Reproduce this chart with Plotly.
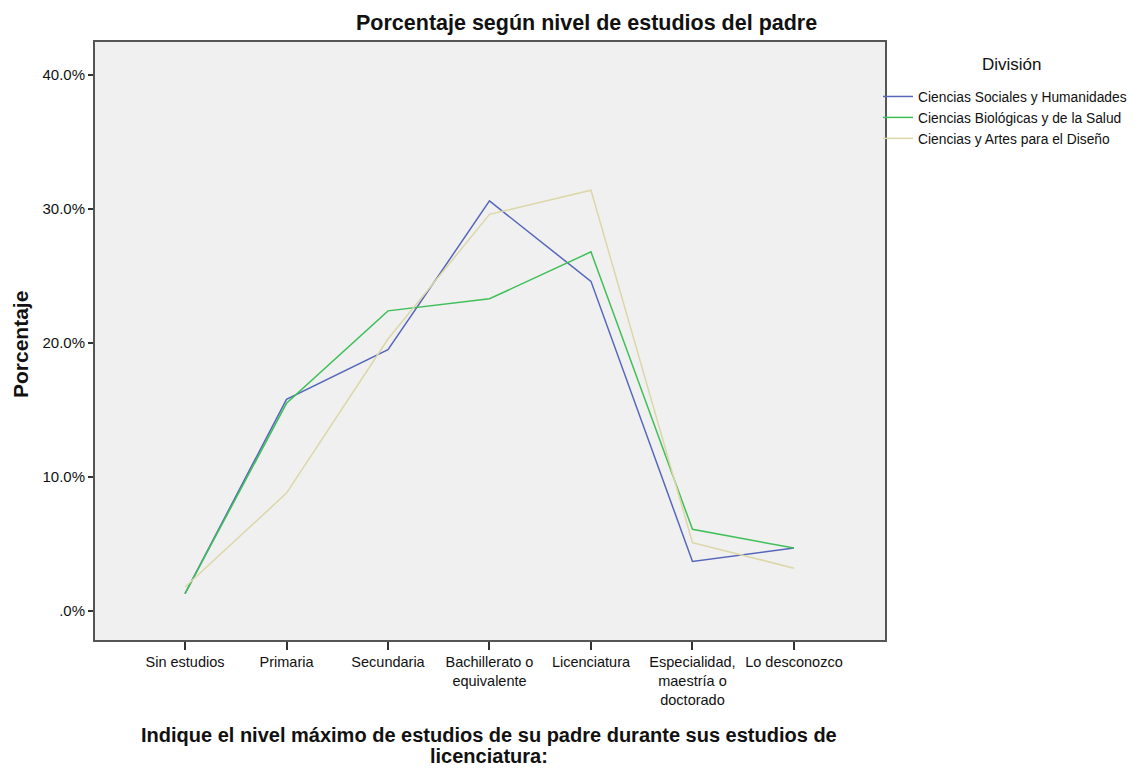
import plotly.graph_objects as go

categories = ["Sin estudios", "Primaria", "Secundaria", "Bachillerato o<br>equivalente",
              "Licenciatura", "Especialidad,<br>maestría o<br>doctorado", "Lo desconozco"]
series_names = ["Ciencias Sociales y Humanidades", "Ciencias Biológicas y de la Salud",
                "Ciencias y Artes para el Diseño"]
sociales = [1.3, 15.8, 19.5, 30.6, 24.6, 3.7, 4.7]
biologicas = [1.3, 15.5, 22.4, 23.3, 26.8, 6.1, 4.7]
artes = [1.8, 8.8, 20.3, 29.6, 31.4, 5.1, 3.2]
colors = ["#5667BB", "#3FBF58", "#DCD7A8"]
y_ticks = [0, 10, 20, 30, 40]
y_tick_labels = [".0%", "10.0%", "20.0%", "30.0%", "40.0%"]

# page offset (browser body margin) is 8px; plot area in page px: x 95..885, y 42..640
PX0, PX1, PY0, PY1 = 95, 885, 42, 640


def px(x):
    return (x - PX0) / (PX1 - PX0)


def py(y):
    return (PY1 - y) / (PY1 - PY0)


fig = go.Figure()
xs = list(range(len(categories)))
for name, vals, c in zip(series_names, [sociales, biologicas, artes], colors):
    fig.add_trace(go.Scatter(x=xs, y=vals, mode="lines", name=name,
                             line=dict(color=c, width=1.5)))

font = "Liberation Sans, Arial, sans-serif"
fig.update_layout(
    width=1130, height=760,
    margin=dict(l=87, r=253, t=34, b=128, autoexpand=False),
    paper_bgcolor="white", plot_bgcolor="#F0F0F0",
    font=dict(family=font, size=14, color="#111"),
    showlegend=True,
    legend=dict(x=px(878), xanchor="left", y=py(81), yanchor="top",
                font=dict(size=13.8, family=font), bgcolor="rgba(0,0,0,0)",
                tracegroupgap=0),
    xaxis=dict(tickmode="array", tickvals=xs, ticktext=categories,
               range=[-0.887, 6.897], showgrid=False, zeroline=False,
               showline=True, mirror=True, linecolor="#555", linewidth=2,
               ticks="outside", ticklen=8, tickcolor="#333", tickwidth=2,
               tickfont=dict(size=14.5)),
    yaxis=dict(tickmode="array", tickvals=y_ticks, ticktext=y_tick_labels,
               range=[-2.16, 42.46], showgrid=False, zeroline=False,
               showline=True, mirror=True, linecolor="#555", linewidth=2,
               ticks="outside", ticklen=5, tickcolor="#333", tickwidth=2,
               tickfont=dict(size=15)),
)

anns = [
    dict(text="<b>Porcentaje según nivel de estudios del padre</b>", x=px(586), y=py(23),
         font=dict(size=21.5, family=font, color="#111")),
    dict(text="<b>Indique el nivel máximo de estudios de su padre durante sus estudios de</b>",
         x=px(489), y=py(735), font=dict(size=20, family=font, color="#111")),
    dict(text="<b>licenciatura:</b>",
         x=px(489), y=py(756), font=dict(size=20, family=font, color="#111")),
    dict(text="<b>Porcentaje</b>", x=px(20), y=py(345), textangle=-90,
         font=dict(size=21, family=font, color="#111")),
    dict(text="División", x=px(1012), y=py(65),
         font=dict(size=17, family=font, color="#111")),
]
for a in anns:
    a.update(xref="paper", yref="paper", showarrow=False,
             xanchor="center", yanchor="middle")
fig.update_layout(annotations=anns)

fig.write_html("out.html")
